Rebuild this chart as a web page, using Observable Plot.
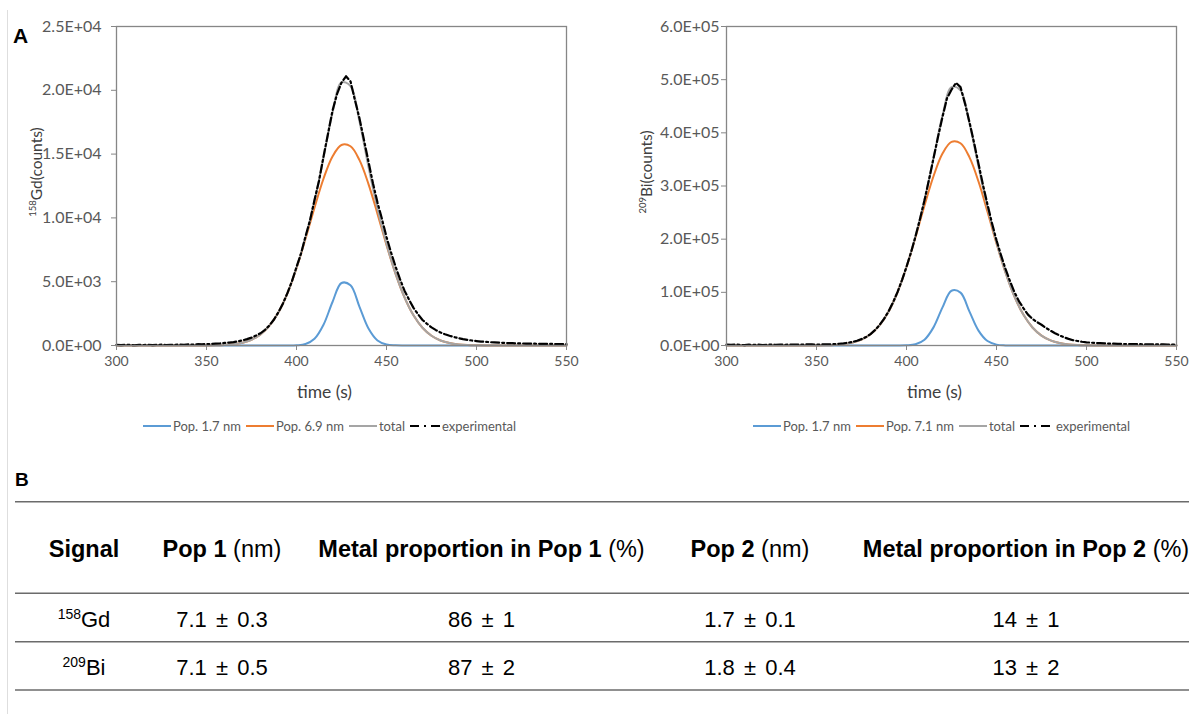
<!DOCTYPE html>
<html><head><meta charset="utf-8">
<script src="https://cdn.jsdelivr.net/npm/d3@7"></script>
<script src="https://cdn.jsdelivr.net/npm/@observablehq/plot@0.6"></script>
<style>
body{margin:0;background:#fff;}
#page{position:relative;width:1189px;height:714px;overflow:hidden;background:#fff;}
.abs{position:absolute;}
.legend{position:absolute;display:flex;align-items:center;font-family:Lato,sans-serif;font-size:13px;color:#595959;white-space:nowrap;height:14px;}
.legend .item{display:flex;align-items:center;margin-right:5px;}
.legend svg{margin-right:2px;}
.panel{font-family:"Liberation Sans",Arial,sans-serif;font-weight:bold;color:#000;}
#chart1 svg,#chart2 svg{max-width:none !important;}
</style></head>
<body><div id="page">
<div class="abs" style="left:7px;top:10px;width:1px;height:704px;background:#dedede"></div>
<div class="abs panel" style="left:13px;top:24px;font-size:21px;line-height:24px">A</div>
<div id="chart1" class="abs" style="left:0;top:0;width:600px"></div>
<div id="chart2" class="abs" style="left:610px;top:0;width:600px"></div>
<div id="legend1" class="legend" style="left:143px;top:419px"></div>
<div id="legend2" class="legend" style="left:753px;top:419px"></div>
<div class="abs panel" style="left:15px;top:469px;font-size:19px;line-height:22px">B</div>
<div id="table" class="abs" style="left:0;top:460px"></div>
</div>
<script>
// ---------- data ----------
const time5 = [300,305,310,315,320,325,330,335,340,345,350,355,360,365,370,375,380,385,390,395,400,405,410,415,420,425,430,435,440,445,450,455,460,465,470,475,480,485,490,495,500,505,510,515,520,525,530,535,540,545,550];
const time25 = [300,302.5,305,307.5,310,312.5,315,317.5,320,322.5,325,327.5,330,332.5,335,337.5,340,342.5,345,347.5,350,352.5,355,357.5,360,362.5,365,367.5,370,372.5,375,377.5,380,382.5,385,387.5,390,392.5,395,397.5,400,402.5,405,407.5,410,412.5,415,417.5,420,422.5,425,427.5,430,432.5,435,437.5,440,442.5,445,447.5,450,452.5,455,457.5,460,462.5,465,467.5,470,472.5,475,477.5,480,482.5,485,487.5,490,492.5,495,497.5,500,502.5,505,507.5,510,512.5,515,517.5,520,522.5,525,527.5,530,532.5,535,537.5,540,542.5,545,547.5,550];

// 158Gd panel
const gdPop17 = [0,0,0,0,0,0,0,0,0,0,0,0,0,0,0,0,0,0,0,2,17,114,523,1624,3410,4900,4720,3033,1335,398,80,11,1,0,0,0,0,0,0,0,0,0,0,0,0,0,0,0,0,0,0];
const gdPop69 = [0,0,0,0,0,0,0,0,1,2,7,17,43,101,221,451,866,1553,2610,4108,6058,8364,10806,13070,14814,15717,15614,14525,12652,10318,7881,5636,3774,2365,1389,764,393,190,85,36,14,5,2,0,0,0,0,0,0,0,0];
const gdTotal = [0,0,0,0,0,0,0,0,1,2,7,17,43,101,221,451,866,1553,2610,4110,6075,8478,11329,14694,18224,20617,20334,17558,13987,10716,7961,5647,3775,2365,1389,764,393,190,85,36,14,5,2,0,0,0,0,0,0,0,0];
const gdExp = [50,30,60,40,20,50,40,60,30,50,
  70,40,60,50,80,60,90,70,100,90,
  120,110,150,170,200,230,270,330,400,500,
  620,780,960,1230,1580,2040,2620,3300,4120,5050,
  6150,7200,8550,9800,11400,12900,14800,16600,18400,19700,
  20600,21100,20700,19200,17800,16100,14400,12700,11200,9900,
  8500,7300,6200,5200,4300,3600,2950,2450,2000,1700,
  1420,1200,1020,880,760,660,580,500,440,390,
  350,310,290,260,240,220,210,190,180,170,
  160,150,150,140,130,130,120,120,110,110,
  100];

// 209Bi panel
const biPop17 = [0,0,0,0,0,0,0,0,0,0,0,0,0,0,0,0,0,0,0,36,353,2394,10983,34094,71610,103000,99500,63683,28035,8358,1680,231,21,0,0,0,0,0,0,0,0,0,0,0,0,0,0,0,0,0,0];
const biPop71 = [0,0,0,0,0,0,0,0,18,56,160,420,1055,2464,5390,11011,21098,37846,63525,100100,147609,203665,263340,318395,360976,382960,380380,353815,308385,251405,192038,137330,91977,57635,33842,18596,9587,4620,2079,886,347,129,45,0,0,0,0,0,0,0,0];
const biTotal = [0,0,0,0,0,0,0,0,18,56,160,420,1055,2464,5390,11011,21098,37846,63525,100136,147962,206059,274323,352489,432586,485960,479880,417498,336420,259763,193718,137561,91998,57635,33842,18596,9587,4620,2079,886,347,129,45,0,0,0,0,0,0,0,0];
const biExp = [1500,1000,1800,1200,800,1500,1100,1700,900,1400,
  1900,1200,1600,1300,2000,1500,1800,1600,2100,2000,
  1800,2000,2200,2300,2500,3300,4000,5200,6800,9000,
  12000,16000,21500,29000,38500,50000,64000,81000,100500,123000,
  148000,175000,205000,238000,273000,312000,352000,392000,430000,465000,
  481000,494000,486000,455000,420000,382000,342000,302000,265000,230000,
  198000,170000,144000,121000,100000,83000,70000,58000,50000,44000,
  39000,33000,28000,23000,19000,15500,12500,10000,8500,7000,
  6000,5300,4700,4300,3900,3600,3400,3100,2900,2800,
  2600,2500,2400,2300,2200,2100,2100,2000,1900,1900,
  1800];

const xTicks = [300,350,400,450,500,550];
const yTicksGd = [0,5000,10000,15000,20000,25000];
const yTicksBi = [0,100000,200000,300000,400000,500000,600000];

const legendGd = ["Pop. 1.7 nm","Pop. 6.9 nm","total","experimental"];
const legendBi = ["Pop. 1.7 nm","Pop. 7.1 nm","total","experimental"];
const seriesColors = ["#5B9BD5","#ED7D31","#A5A5A5","#000000"];

// table
const tableHead = [["Signal",""],["Pop 1"," (nm)"],["Metal proportion in Pop 1"," (%)"],["Pop 2"," (nm)"],["Metal proportion in Pop 2"," (%)"]];
const signalIso = ["158","209"];
const signalEl = ["Gd","Bi"];
const pop1Size = ["7.1 \u00b1 0.3","7.1 \u00b1 0.5"];
const metalPop1 = ["86 \u00b1 1","87 \u00b1 2"];
const pop2Size = ["1.7 \u00b1 0.1","1.8 \u00b1 0.4"];
const metalPop2 = ["14 \u00b1 1","13 \u00b1 2"];

// ---------- helpers ----------
function sci(d){
  const [m,e] = d.toExponential(1).split("e");
  const n = Math.abs(+e);
  return m + "E" + (+e < 0 ? "-" : "+") + String(n).padStart(2,"0");
}
const rows = (ts, arr) => ts.map((t,i)=>({t, v: arr[i]}));

function makeChart(el, s, yDomain, yTicks, iso, elem, yTickFs, yTickPad){
  const svgEl = Plot.plot({
    width: 600, height: 410,
    marginLeft: 116, marginRight: 34, marginTop: 26, marginBottom: 65,
    style: {fontFamily: "Lato, sans-serif", fontSize: "14px", color: "#595959", background: "transparent", overflow: "visible", maxWidth: "none"},
    x: {domain: [300,550]},
    y: {domain: yDomain},
    marks: [
      Plot.line(rows(time5, s[0]), {x:"t", y:"v", stroke: seriesColors[0], strokeWidth: 2, curve: "catmull-rom"}),
      Plot.line(rows(time5, s[1]), {x:"t", y:"v", stroke: seriesColors[1], strokeWidth: 2, curve: "catmull-rom"}),
      Plot.line(rows(time5, s[2]), {x:"t", y:"v", stroke: seriesColors[2], strokeWidth: 2, curve: "catmull-rom"}),
      Plot.line(rows(time25, s[3]), {x:"t", y:"v", stroke: seriesColors[3], strokeWidth: 2.2, strokeDasharray: "8,3,2,3"}),
      Plot.frame({stroke: "#868686", strokeWidth: 1.3}),
      Plot.axisX({ticks: xTicks, tickSize: 5, tickPadding: 6, label: null, stroke: "#868686", fill: "#595959", fontSize: 14}),
      Plot.axisY({ticks: yTicks, tickFormat: sci, tickSize: 5, tickPadding: yTickPad, label: null, stroke: "#868686", fill: "#595959", fontSize: yTickFs})
    ]
  });
  const svg = d3.select(svgEl);
  const yl = svg.append("text")
    .attr("transform", "translate(42,172) rotate(-90)")
    .attr("text-anchor", "middle")
    .attr("font-family", "Lato, sans-serif")
    .attr("font-size", 15.5)
    .attr("fill", "#404040");
  yl.append("tspan").attr("font-size", 9.5).attr("dy", -6).text(iso);
  yl.append("tspan").attr("dy", 6).text(elem + "(counts)");
  svg.append("text")
    .attr("x", 324.5).attr("y", 398)
    .attr("text-anchor", "middle")
    .attr("font-family", "Lato, sans-serif")
    .attr("font-size", 17.5)
    .attr("fill", "#404040")
    .text("time (s)");
  document.getElementById(el).appendChild(svgEl);
}

makeChart("chart1", [gdPop17, gdPop69, gdTotal, gdExp], [0,25000], yTicksGd, "158", "Gd", 16, 10);
makeChart("chart2", [biPop17, biPop71, biTotal, biExp], [0,600000], yTicksBi, "209", "Bi", 16, 2);

function makeLegend(el, labels, wideGap){
  const box = d3.select("#" + el);
  labels.forEach((lab, i) => {
    const it = box.append("div").attr("class", "item");
    const sw = it.append("svg").attr("width", i === 3 ? 30 : 28).attr("height", 10);
    sw.append("line").attr("x1", 0).attr("x2", i === 3 ? 30 : 28).attr("y1", 5).attr("y2", 5)
      .attr("stroke", seriesColors[i]).attr("stroke-width", 2)
      .attr("stroke-dasharray", i === 3 ? "9,5,2,5,9" : null);
    if (i === 3 && wideGap) sw.style("margin-right", "6px");
    it.append("span").text(lab);
  });
}
makeLegend("legend1", legendGd, false);
makeLegend("legend2", legendBi, true);

// table
(function(){
  const W = 1189, H = 254;
  const svg = d3.select("#table").append("svg").attr("width", W).attr("height", H)
    .style("font-family", "'Liberation Sans', Arial, sans-serif");
  const lineYs = [41.7, 133.3, 181.7, 230];
  lineYs.forEach(y => svg.append("line").attr("x1", 15).attr("x2", W).attr("y1", y).attr("y2", y)
    .attr("stroke", "#6b6b6b").attr("stroke-width", 1.6));
  const cx = [84, 222, 481.5, 750, 1026];
  tableHead.forEach((h, i) => {
    const t = svg.append("text").attr("x", cx[i]).attr("y", 96.7).attr("text-anchor", "middle")
      .attr("font-size", 23.5).attr("fill", "#000");
    t.append("tspan").attr("font-weight", "bold").text(h[0]);
    if (h[1]) t.append("tspan").text(h[1]);
  });
  const rowY = [166.7, 215];
  signalIso.forEach((iso, r) => {
    const t = svg.append("text").attr("x", cx[0]).attr("y", rowY[r]).attr("text-anchor", "middle")
      .attr("font-size", 22).attr("fill", "#000");
    t.append("tspan").attr("font-size", 14).attr("dy", -8).text(iso);
    t.append("tspan").attr("dy", 8).text(signalEl[r]);
    [pop1Size, metalPop1, pop2Size, metalPop2].forEach((col, c) => {
      svg.append("text").attr("x", cx[c+1]).attr("y", rowY[r]).attr("text-anchor", "middle")
        .attr("font-size", 22).attr("word-spacing", 3).attr("fill", "#000").text(col[r]);
    });
  });
})();
</script>
</body></html>
